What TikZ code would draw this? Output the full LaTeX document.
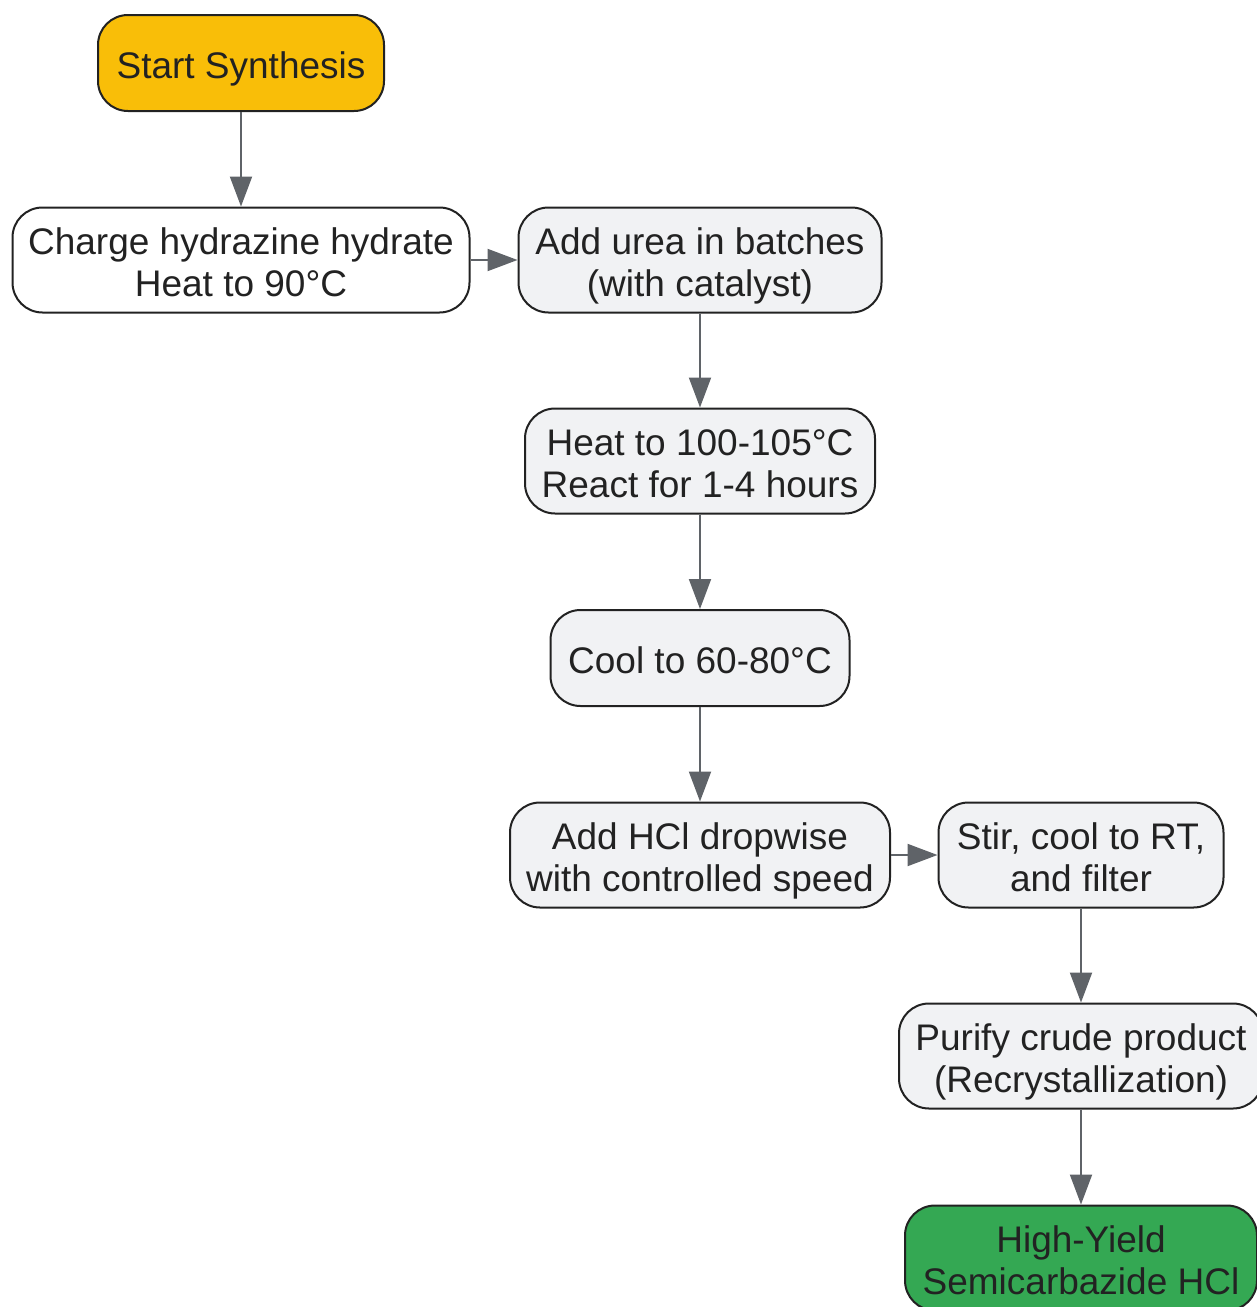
\documentclass[tikz,border=0pt]{standalone}
\usepackage{fontspec}
\setmainfont{Liberation Sans}
\usepackage{tikz}
\usetikzlibrary{arrows.meta}

\definecolor{startfill}{HTML}{F9BE08}
\definecolor{stepfill}{HTML}{F1F2F4}
\definecolor{endfill}{HTML}{34A853}
\definecolor{linegray}{HTML}{5F6368}
\definecolor{textdark}{HTML}{222222}

\begin{document}
\begin{tikzpicture}[x=0.5pt,y=-0.5pt,
  box/.style={draw=textdark,line width=1pt,rounded corners=15pt,align=center,inner sep=0pt,
    text=textdark,font=\fontsize{18.5}{21}\selectfont,minimum height=52.5pt,fill=stepfill,
    text height=36.5pt,text depth=0pt},
  oneline/.style={minimum height=48pt,text height=15.5pt,text depth=0pt},
  flow/.style={draw=linegray,line width=1pt,-{Triangle[length=15pt,width=11pt]}}]

\useasboundingbox (0,0) rectangle (1257,1307);

\node [box,oneline,fill=startfill,minimum width=143pt] (start) at (241,63) {Start Synthesis};
\node [box,fill=white,minimum width=228.5pt] (charge) at (241,260) {Charge hydrazine hydrate\\Heat to 90°C};
\node [box,minimum width=181.5pt] (urea) at (700,260) {Add urea in batches\\(with catalyst)};
\node [box,minimum width=175pt] (heat) at (700,461) {Heat to 100-105°C\\React for 1-4 hours};
\node [box,oneline,minimum width=149.5pt] (cool) at (700,658) {Cool to 60-80°C};
\node [box,minimum width=190pt] (hcl) at (700,855) {Add HCl dropwise\\with controlled speed};
\node [box,minimum width=142.5pt] (stir) at (1081,855) {Stir, cool to RT,\\and filter};
\node [box,minimum width=182pt] (purify) at (1081,1056) {Purify crude product\\(Recrystallization)};
\node [box,fill=endfill,minimum width=176pt] (product) at (1081,1258) {High-Yield\\Semicarbazide HCl};

\draw [flow] (start) -- (charge);
\draw [flow] (charge) -- (urea);
\draw [flow] (urea) -- (heat);
\draw [flow] (heat) -- (cool);
\draw [flow] (cool) -- (hcl);
\draw [flow] (hcl) -- (stir);
\draw [flow] (stir) -- (purify);
\draw [flow] (purify) -- (product);

\end{tikzpicture}
\end{document}
